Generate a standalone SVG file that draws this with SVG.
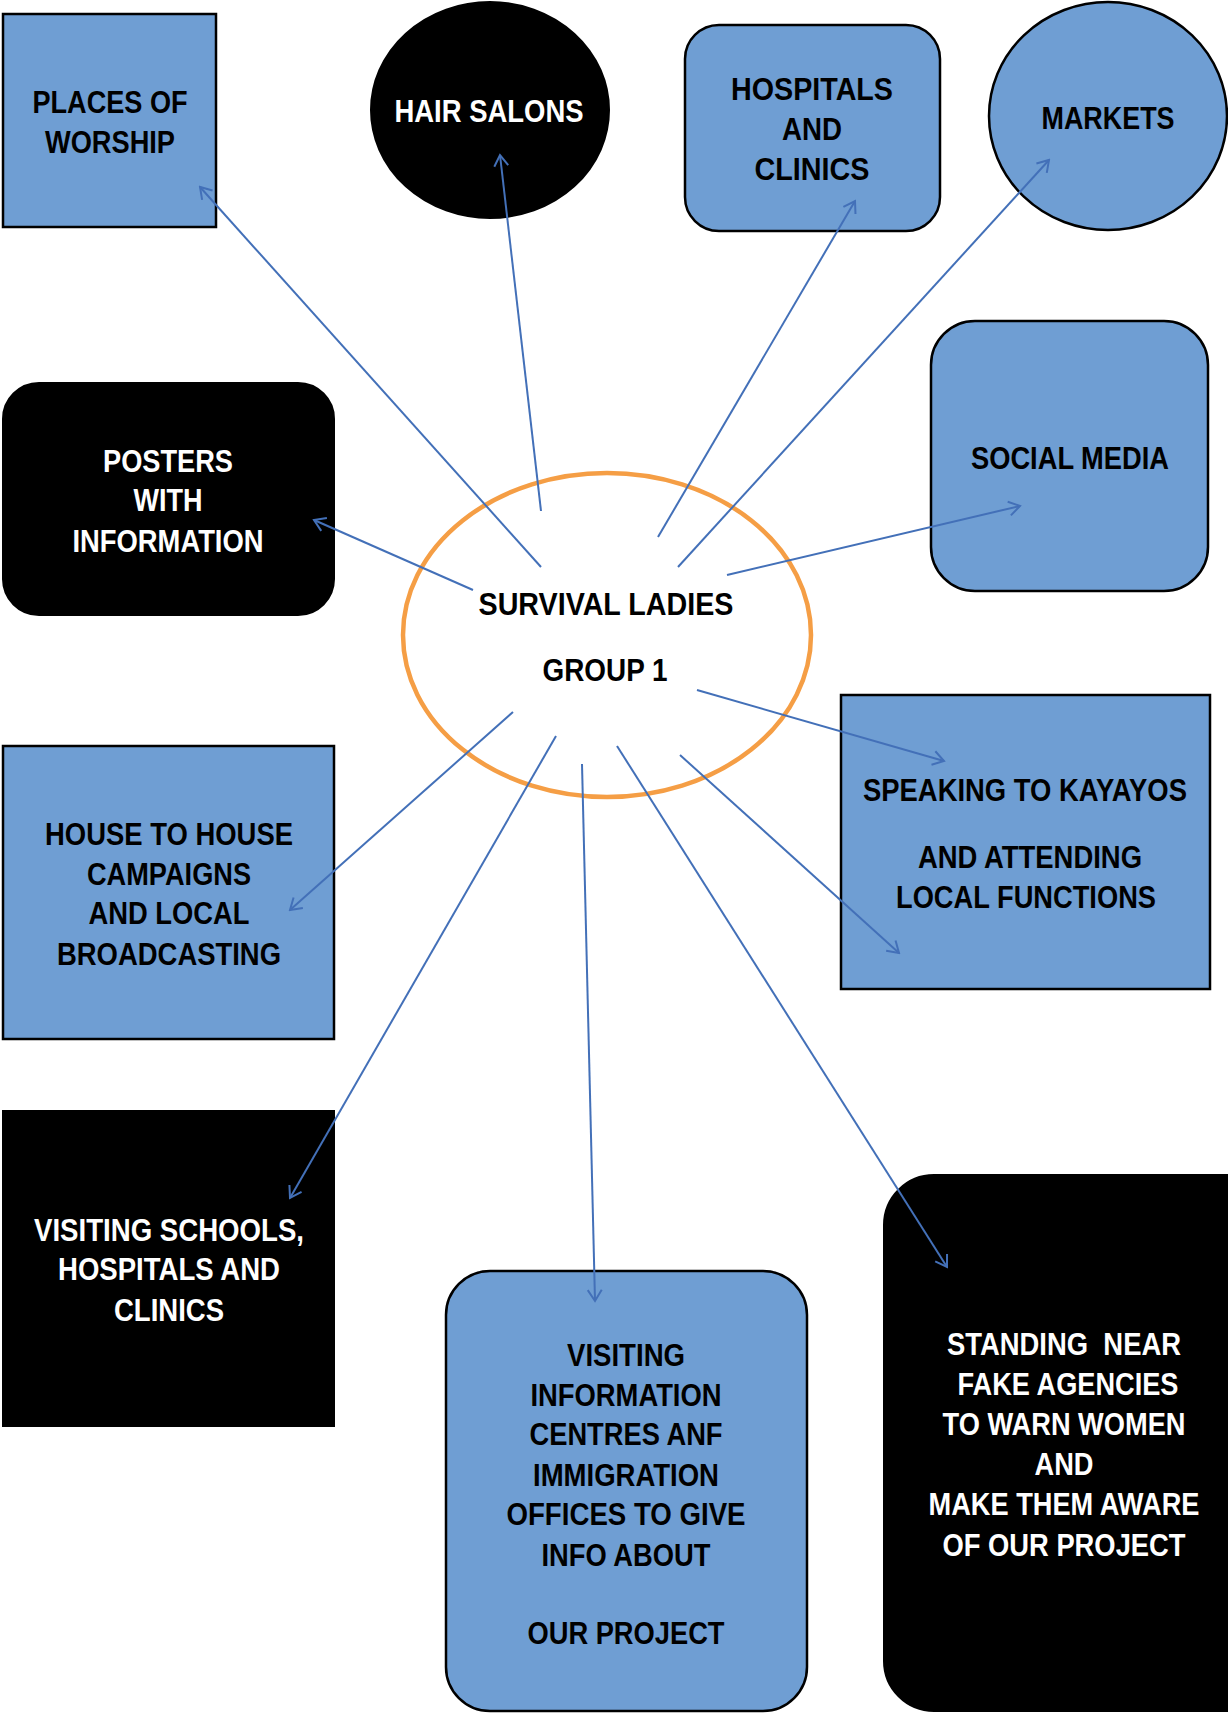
<svg xmlns="http://www.w3.org/2000/svg" width="1228" height="1713" viewBox="0 0 1228 1713">
<style>
.n{font-family:"Liberation Sans",Arial,sans-serif;font-weight:bold;font-size:32px;text-anchor:middle;white-space:pre}
.b{fill:#000}
.w{fill:#fff}
.blue{fill:#6F9ED3;stroke:#000;stroke-width:2.5}
.blk{fill:#000;stroke:#000;stroke-width:2}
.c{stroke:#4370B8;stroke-width:2;fill:none;marker-end:url(#ah)}
</style>
<defs>
<marker id="ah" markerUnits="userSpaceOnUse" viewBox="-14 -9 16 18" refX="0" refY="0" markerWidth="16" markerHeight="18" orient="auto">
<path d="M-11,-7 L0,0 L-11,7" fill="none" stroke="#4370B8" stroke-width="2"/>
</marker>
</defs>
<rect width="1228" height="1713" fill="#fff"/>
<g id="worship">
<rect class="blue" x="3" y="14" width="213" height="213"/>
<text class="n b" x="110" y="113" textLength="155" lengthAdjust="spacingAndGlyphs">PLACES OF</text>
<text class="n b" x="110" y="153" textLength="130" lengthAdjust="spacingAndGlyphs">WORSHIP</text>
</g>
<g id="salons">
<ellipse cx="490" cy="110" rx="119" ry="108" class="blk"/>
<text class="n w" x="489" y="122" textLength="189" lengthAdjust="spacingAndGlyphs">HAIR SALONS</text>
</g>
<g id="hospitals">
<rect class="blue" x="685" y="25" width="255" height="206" rx="34"/>
<text class="n b" x="812" y="100" textLength="162" lengthAdjust="spacingAndGlyphs">HOSPITALS</text>
<text class="n b" x="812" y="140" textLength="60" lengthAdjust="spacingAndGlyphs">AND</text>
<text class="n b" x="812" y="180" textLength="115" lengthAdjust="spacingAndGlyphs">CLINICS</text>
</g>
<g id="markets">
<ellipse cx="1108" cy="116" rx="119" ry="114" class="blue"/>
<text class="n b" x="1108" y="129" textLength="133" lengthAdjust="spacingAndGlyphs">MARKETS</text>
</g>
<g id="social">
<rect class="blue" x="931" y="321" width="277" height="270" rx="44"/>
<text class="n b" x="1070" y="469" textLength="198" lengthAdjust="spacingAndGlyphs">SOCIAL MEDIA</text>
</g>
<g id="posters">
<rect class="blk" x="3" y="383" width="331" height="232" rx="36"/>
<text class="n w" x="168" y="472" textLength="130" lengthAdjust="spacingAndGlyphs">POSTERS</text>
<text class="n w" x="168" y="511" textLength="69" lengthAdjust="spacingAndGlyphs">WITH</text>
<text class="n w" x="168" y="552" textLength="191" lengthAdjust="spacingAndGlyphs">INFORMATION</text>
</g>
<g id="center">
<ellipse cx="607" cy="635" rx="204" ry="162" fill="#fff" stroke="#F59E45" stroke-width="4.5"/>
<text class="n b" x="606" y="615" textLength="255" lengthAdjust="spacingAndGlyphs">SURVIVAL LADIES</text>
<text class="n b" x="605" y="681" textLength="125" lengthAdjust="spacingAndGlyphs">GROUP 1</text>
</g>
<g id="kayayos">
<rect class="blue" x="841" y="695" width="369" height="294"/>
<text class="n b" transform="translate(1025,801) scale(0.857,1)" x="0" y="0">SPEAKING TO KAYAYOS</text>
<text class="n b" x="1030" y="868" textLength="224" lengthAdjust="spacingAndGlyphs">AND ATTENDING</text>
<text class="n b" x="1026" y="908" textLength="260" lengthAdjust="spacingAndGlyphs">LOCAL FUNCTIONS</text>
</g>
<g id="house">
<rect class="blue" x="3" y="746" width="331" height="293"/>
<text class="n b" x="169" y="845" textLength="248" lengthAdjust="spacingAndGlyphs">HOUSE TO HOUSE</text>
<text class="n b" x="169" y="885" textLength="164" lengthAdjust="spacingAndGlyphs">CAMPAIGNS</text>
<text class="n b" x="169" y="924" textLength="161" lengthAdjust="spacingAndGlyphs">AND LOCAL</text>
<text class="n b" x="169" y="965" textLength="224" lengthAdjust="spacingAndGlyphs">BROADCASTING</text>
</g>
<g id="schools">
<rect class="blk" x="3" y="1111" width="331" height="315"/>
<text class="n w" x="169" y="1241" textLength="270" lengthAdjust="spacingAndGlyphs">VISITING SCHOOLS,</text>
<text class="n w" x="169" y="1280" textLength="222" lengthAdjust="spacingAndGlyphs">HOSPITALS AND</text>
<text class="n w" x="169" y="1321" textLength="110" lengthAdjust="spacingAndGlyphs">CLINICS</text>
</g>
<g id="infocentres">
<rect class="blue" x="446" y="1271" width="361" height="440" rx="44"/>
<text class="n b" x="626" y="1366" textLength="118" lengthAdjust="spacingAndGlyphs">VISITING</text>
<text class="n b" x="626" y="1406" textLength="191" lengthAdjust="spacingAndGlyphs">INFORMATION</text>
<text class="n b" x="626" y="1445" textLength="193" lengthAdjust="spacingAndGlyphs">CENTRES ANF</text>
<text class="n b" x="626" y="1486" textLength="186" lengthAdjust="spacingAndGlyphs">IMMIGRATION</text>
<text class="n b" x="626" y="1525" textLength="239" lengthAdjust="spacingAndGlyphs">OFFICES TO GIVE</text>
<text class="n b" x="626" y="1566" textLength="169" lengthAdjust="spacingAndGlyphs">INFO ABOUT</text>
<text class="n b" x="626" y="1644" textLength="197" lengthAdjust="spacingAndGlyphs">OUR PROJECT</text>
</g>
<g id="standing">
<rect class="blk" x="884" y="1175" width="400" height="536" rx="50"/>
<text class="n w" x="1064" y="1355" textLength="234" lengthAdjust="spacingAndGlyphs">STANDING  NEAR</text>
<text class="n w" x="1068" y="1395" textLength="221" lengthAdjust="spacingAndGlyphs">FAKE AGENCIES</text>
<text class="n w" x="1064" y="1435" textLength="243" lengthAdjust="spacingAndGlyphs">TO WARN WOMEN</text>
<text class="n w" x="1064" y="1475" textLength="59" lengthAdjust="spacingAndGlyphs">AND</text>
<text class="n w" transform="translate(1064,1515) scale(0.85,1)" x="0" y="0">MAKE THEM AWARE</text>
<text class="n w" x="1064" y="1556" textLength="243" lengthAdjust="spacingAndGlyphs">OF OUR PROJECT</text>
</g>
<g id="connectors">
<line class="c" x1="541" y1="567" x2="200" y2="187"/>
<line class="c" x1="541" y1="511" x2="500" y2="155"/>
<line class="c" x1="658" y1="537" x2="855" y2="201"/>
<line class="c" x1="678" y1="567" x2="1049" y2="160"/>
<line class="c" x1="727" y1="575" x2="1020" y2="506"/>
<line class="c" x1="473" y1="590" x2="314" y2="520"/>
<line class="c" x1="697" y1="690" x2="944" y2="761"/>
<line class="c" x1="513" y1="712" x2="290" y2="910"/>
<line class="c" x1="556" y1="736" x2="290" y2="1198"/>
<line class="c" x1="582" y1="764" x2="595" y2="1301"/>
<line class="c" x1="617" y1="746" x2="947" y2="1267"/>
<line class="c" x1="680" y1="755" x2="899" y2="953"/>
</g>
</svg>
